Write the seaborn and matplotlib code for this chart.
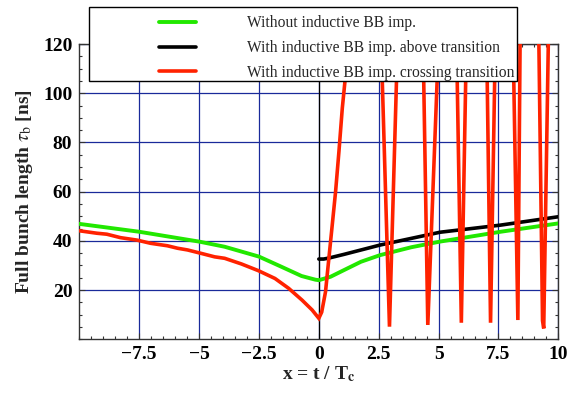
import numpy as np
import pandas as pd
import matplotlib
matplotlib.use('Agg')
import matplotlib.pyplot as plt
import seaborn as sns
from matplotlib.patches import Rectangle
from matplotlib.ticker import AutoMinorLocator

# Données
green_x = [-10, -7.5, -5, -3.93, -2.5, -1.57, -0.72, -0.14, 0, 0.07, 0.49, 1.05, 1.76, 2.56, 3.86, 5.06, 7.59, 10]
green_y = [46.9, 43.7, 39.7, 37.6, 33.6, 29.5, 25.7, 24.2, 24.0, 24.2, 25.4, 28.1, 31.5, 34.2, 37.4, 39.7, 43.7, 47.1]

black_x = [0, 0.2, 0.42, 1.05, 2.56, 3.86, 5.06, 7.59, 10]
black_y = [32.6, 32.6, 33.0, 34.5, 38.3, 41.0, 43.5, 46.4, 49.8]

red_x = [-10.0, -9.27, -8.85, -8.28, -7.59, -7.02, -6.32, -5.90, -5.48, -4.91, -4.35, -3.93,
         -3.23, -2.53, -1.83, -1.26, -0.70, -0.28, 0.0, 0.12, 0.28, 0.42, 0.56, 0.70, 0.84,
         0.98, 1.09, 2.29, 2.95, 3.96, 4.55, 5.52, 5.95, 6.64, 7.17, 7.74, 8.31, 8.70,
         9.34, 9.39, 10.0]
red_y = [44.1, 43.1, 42.7, 41.3, 40.3, 39.0, 38.0, 37.0, 36.3, 34.9, 33.5, 32.9,
         30.6, 27.9, 24.7, 20.7, 15.9, 11.9, 8.5, 11.0, 19.3, 32.9, 46.4, 60.0, 76.3,
         93.9, 104.7, 225, 5.1, 350, 5.8, 253, 6.7, 380, 6.7, 334, 7.8, 481,
         7.5, 4.4, 374]

labels = ['Without inductive BB imp.',
          'With inductive BB imp. above transition',
          'With inductive BB imp. crossing transition']
x_ticks = [-7.5, -5, -2.5, 0, 2.5, 5, 7.5, 10]
x_tick_labels = ['\u22127.5', '\u22125', '\u22122.5', '0', '2.5', '5', '7.5', '10']
y_ticks = [20, 40, 60, 80, 100, 120]

sns.set_style('ticks')
plt.rcParams['font.family'] = ['Liberation Serif', 'DejaVu Serif']
plt.rcParams['mathtext.fontset'] = 'stix'

fig, ax = plt.subplots(figsize=(5.83, 3.96), dpi=100)
fig.subplots_adjust(left=0.136, right=0.9577, bottom=0.1434, top=0.8886)

sns.lineplot(x=green_x, y=green_y, ax=ax, color='#22e800', lw=2.8, label=labels[0], sort=False, zorder=3)
sns.lineplot(x=black_x, y=black_y, ax=ax, color='black', lw=2.6, label=labels[1], sort=False, zorder=3)
sns.lineplot(x=red_x, y=red_y, ax=ax, color='#ff2200', lw=2.6, label=labels[2], sort=False, zorder=4,
             solid_joinstyle='miter')
if ax.get_legend() is not None:
    ax.get_legend().remove()

ax.set_xlim(-10, 10)
ax.set_ylim(0, 120)
ax.set_xticks(x_ticks, labels=x_tick_labels)
ax.set_yticks(y_ticks)
ax.xaxis.set_minor_locator(AutoMinorLocator(5))
ax.yaxis.set_minor_locator(AutoMinorLocator(4))
ax.grid(True, which='major', color='#1a2a9a', lw=0.9)
ax.axvline(0, color='black', lw=0.9, zorder=2)
ax.tick_params(which='both', direction='in', top=True, right=True, colors='#333333',
               labelcolor='black', labelsize=14, pad=5)
ax.tick_params(which='major', length=4, width=0.8)
ax.tick_params(which='minor', length=2.5, width=0.8)
for lab in ax.get_xticklabels() + ax.get_yticklabels():
    lab.set_fontweight('bold')
for sp in ax.spines.values():
    sp.set_color('#333333')
    sp.set_linewidth(1.0)

ax.set_xlabel(r'x = t / T$_{\mathbf{c}}$', fontsize=14, fontweight='bold', labelpad=1)
ax.set_ylabel(r'Full bunch length $\tau_\mathrm{b}$ [ns]', fontsize=14, fontweight='bold', labelpad=6)

# Cadre de la légende
rect = Rectangle((89.3 / 583, 1 - 81 / 396), 427.4 / 583, 73.7 / 396, transform=fig.transFigure,
                 facecolor='white', edgecolor='black', lw=1.0, zorder=4)
fig.add_artist(rect)
handles, _ = ax.get_legend_handles_labels()
fig.legend(handles, labels, loc='center left', bbox_to_anchor=(151 / 583, 1 - 48 / 396),
           frameon=False, borderpad=0, fontsize=11.2, handlelength=2.4, handletextpad=3.3,
           labelspacing=0.55)

plt.savefig('out.png', dpi=100)
